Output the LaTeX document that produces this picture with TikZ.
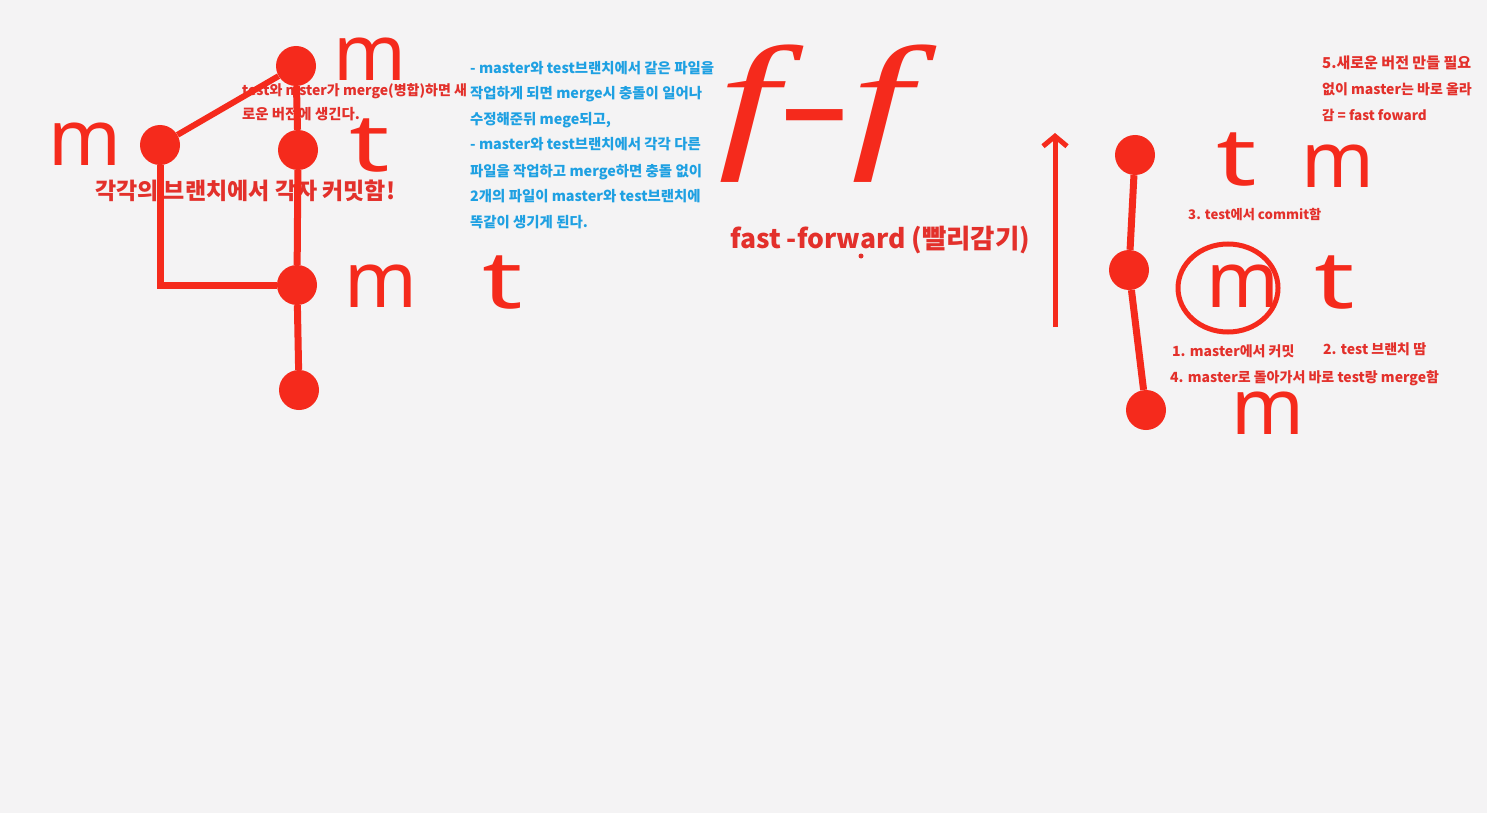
\documentclass[tikz,border=0pt]{standalone}
\usepackage{fontspec}
\setmainfont{Noto Sans CJK KR}
\newfontfamily\handfont{Noto Sans}
\newfontfamily\fffont{Liberation Serif}
\usepackage{tikz}
\usetikzlibrary{calc}
\usetikzlibrary{arrows, arrows.meta}
\definecolor{board}{HTML}{F4F3F4}
\definecolor{pen}{HTML}{F52A1C}
\definecolor{inkred}{HTML}{E3302B}
\definecolor{inkblue}{HTML}{1EA0E2}

\begin{document}
\begin{tikzpicture}[x = 1pt, y = -1pt]

\tikzstyle{commit}=[circle, fill=pen, inner sep=0, minimum size=40]
\tikzstyle{hand_m}=[text=pen, font=\handfont\fontsize{78}{78}\selectfont, inner sep=0, text height=42, text depth=0]
\tikzstyle{hand_t}=[text=pen, font=\handfont\fontsize{80}{80}\selectfont, inner sep=0, text height=47, text depth=0, xscale=1.4]
\tikzstyle{note_r}=[text=inkred, font=\bfseries\fontsize{14}{14}\selectfont, anchor=base west, inner sep=0]
\tikzstyle{note_b}=[text=inkblue, font=\bfseries\fontsize{14.4}{14.4}\selectfont, anchor=base west, inner sep=0]
\tikzstyle{title_r}=[text=inkred, font=\bfseries\fontsize{23}{23}\selectfont, anchor=base west, inner sep=0]

\useasboundingbox (0, 0) rectangle (1487, 813);
\fill[board] (0, 0) rectangle (1487, 813);

\coordinate (L) at (297, 285);
\coordinate (R) at (1135, 270);
\coordinate (B) at (470, 0);
\coordinate (N) at (1322, 0);

% left: merge
\path
(296, 66) node[commit](m_top) {}
(160, 145) node[commit](m_left) {}
(298, 150) node[commit](t_head) {}
($(L)$) node[commit](base) {}
($(L) + (2, 105)$) node[commit](root) {}
(85, 145) node[hand_m](lm1) {m}
(370, 60) node[hand_m](lm2) {m}
(370, 148) node[hand_t](lt1) {t}
(381, 286) node[hand_m](lm3) {m}
(503, 285) node[hand_t](lt2) {t}
(242, 96) node[note_r](merge1) {test와 mster가 merge(병합)하면 새}
(242, 120) node[note_r, font=\bfseries\fontsize{14.4}{14.4}\selectfont](merge2) {로운 버전에 생긴다.}
(95, 199) node[title_r](each) {각각의 브랜치에서 각자 커밋함!};

% notes
\path
($(B) + (0, 74)$) node[note_b](b1) {- master와 test브랜치에서 같은 파일을}
($(B) + (0, 99)$) node[note_b](b2) {작업하게 되면 merge시 충돌이 일어나}
($(B) + (0, 125)$) node[note_b](b3) {수정해준뒤 mege되고,}
($(B) + (0, 150)$) node[note_b](b4) {- master와 test브랜치에서 각각 다른}
($(B) + (0, 176)$) node[note_b](b5) {파일을 작업하고 merge하면 충돌 없이}
($(B) + (0, 201)$) node[note_b](b6) {2개의 파일이 master와 test브랜치에}
($(B) + (0, 227)$) node[note_b](b7) {똑같이 생기게 된다.}
(815, 114) node[text=pen, xscale=1.45, inner sep=0, font=\fffont\itshape\fontsize{150}{150}\selectfont](ff) {f-f}
(730, 248) node[title_r, font=\bfseries\fontsize{26.5}{26.5}\selectfont](fast) {fast -forward (빨리감기)}
(861, 256) node[circle, fill=inkred, inner sep=0, minimum size=5](dot) {};

% right: fast-forward
\path
($(R) + (0, -115)$) node[commit](r_top) {}
($(R) + (-6, 0)$) node[commit](r_mid) {}
($(R) + (11, 140)$) node[commit](r_root) {}
(1237, 162) node[hand_t](rt1) {t}
(1338, 166) node[hand_m](rm1) {m}
(1243, 286) node[hand_m](rm2) {m}
(1335, 285) node[hand_t](rt2) {t}
(1268, 413) node[hand_m](rm3) {m}
(1055, 327) coordinate(up_s)
(1055, 133) coordinate(up_e)
($(N) + (0, 69)$) node[note_r, font=\bfseries\fontsize{15}{15}\selectfont](n1) {5.새로운 버전 만들 필요}
($(N) + (0, 95)$) node[note_r](n2) {없이 master는 바로 올라}
($(N) + (0, 121)$) node[note_r, font=\bfseries\fontsize{13.5}{13.5}\selectfont](n3) {감 = fast foward}
(1188, 219) node[note_r, font=\bfseries\fontsize{13.2}{13.2}\selectfont](s3) {3. test에서 commit함}
(1172, 356) node[note_r](s1) {1. master에서 커밋}
(1323, 354) node[note_r](s2) {2. test 브랜치 땀}
(1170, 382) node[note_r](s4) {4. master로 돌아가서 바로 test랑 merge함};

% lines
\draw[line width = 7, color = pen] (m_top) -- (t_head) -- (base) -- (root);
\draw[line width = 7, color = pen] (m_left) |- (base);
\draw[line width = 6, color = pen] (m_left) -- (m_top);
\draw[line width = 7, color = pen] (r_top) -- (r_mid) -- (r_root);
\draw[-{Straight Barb[length=10, width=24]}, line width = 5, color = pen] (up_s) to (up_e);
\draw[line width = 5, color = pen] ($(rm2) + (-15, 2)$) ellipse (50 and 44);

\end{tikzpicture}
\end{document}
